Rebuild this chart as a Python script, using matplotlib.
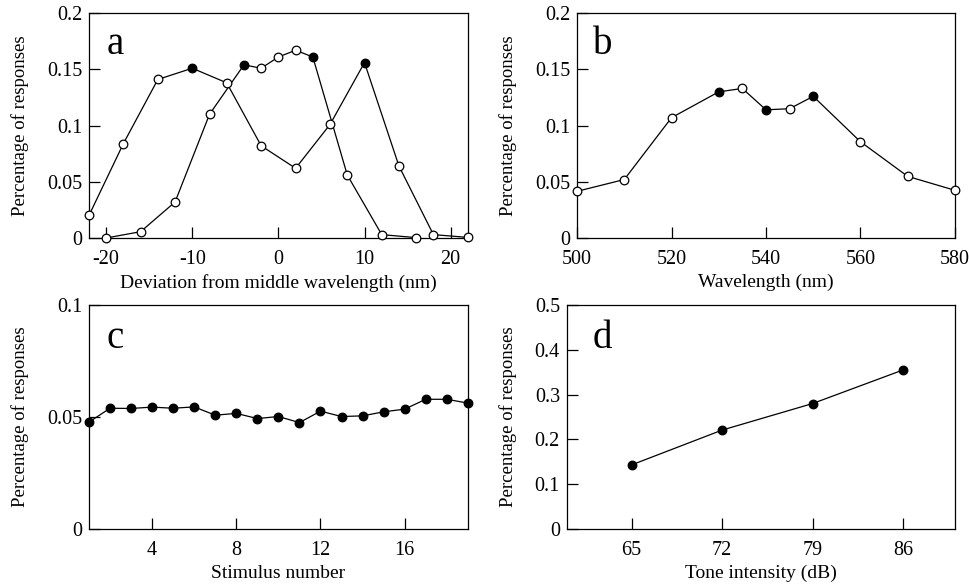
import matplotlib
matplotlib.use("Agg")
import matplotlib.pyplot as plt

plt.rcParams['font.family'] = ['Liberation Serif', 'DejaVu Serif']
plt.rcParams['axes.unicode_minus'] = False

# Panel a
a1_x = [-22, -18, -14, -10, -6, -2, 2, 6, 10, 14, 18, 22]
a1_y = [0.020, 0.084, 0.141, 0.151, 0.138, 0.082, 0.062, 0.101, 0.156, 0.064, 0.003, 0.0005]
a1_filled = [False, False, False, True, False, False, False, False, True, False, False, False]
a2_x = [-20, -16, -12, -8, -4, -2, 0, 2, 4, 8, 12, 16]
a2_y = [0.0, 0.0056, 0.032, 0.110, 0.154, 0.151, 0.161, 0.167, 0.161, 0.056, 0.003, 0.0003]
a2_filled = [False, False, False, False, True, False, False, False, True, False, False, False]

# Panel b
b_x = [500, 510, 520, 530, 535, 540, 545, 550, 560, 570, 580]
b_y = [0.0415, 0.052, 0.107, 0.130, 0.133, 0.114, 0.115, 0.126, 0.0856, 0.0548, 0.0424]
b_filled = [False, False, False, True, False, True, False, True, False, False, False]

# Panel c
c_x = list(range(1, 20))
c_y = [0.0477, 0.0539, 0.0538, 0.0544, 0.0539, 0.0545, 0.0508, 0.0516, 0.0493, 0.0502,
       0.0475, 0.0526, 0.0502, 0.0505, 0.0523, 0.0535, 0.0579, 0.0579, 0.0562]

# Panel d
d_x = [65, 72, 79, 86]
d_y = [0.143, 0.2207, 0.280, 0.355]

fig = plt.figure(figsize=(9.69, 5.84), dpi=100)
ax_a = fig.add_axes([0.0918, 0.5925, 0.391, 0.385])
ax_b = fig.add_axes([0.5955, 0.5925, 0.390, 0.385])
ax_c = fig.add_axes([0.0918, 0.0942, 0.391, 0.3836])
ax_d = fig.add_axes([0.585, 0.0942, 0.4004, 0.3836])

MS = 6.2
LW = 0.9


def draw(ax, xs, ys, filled):
    ax.plot(xs, ys, color='black', lw=LW, zorder=2)
    for x, y, f in zip(xs, ys, filled):
        ax.plot([x], [y], marker='o', ms=MS, mec='black', mew=0.9,
                mfc='black' if f else 'white', ls='none', zorder=3, clip_on=False)


def style(ax):
    ax.tick_params(direction='in', length=8, width=0.9, top=False, right=False,
                   labelsize=14.5, pad=5)
    ax.tick_params(axis='x', pad=9)
    for s in ax.spines.values():
        s.set_linewidth(0.9)
    ax.set_ylabel('Percentage of responses', fontsize=13.5, labelpad=13)


draw(ax_a, a1_x, a1_y, a1_filled)
draw(ax_a, a2_x, a2_y, a2_filled)
ax_a.set_xlim(-22, 22)
ax_a.set_ylim(0, 0.2)
ax_a.set_xticks([-20, -10, 0, 10, 20])
ax_a.set_yticks([0, 0.05, 0.1, 0.15, 0.2])
ax_a.set_yticklabels(['0', '0.05', '0.1', '0.15', '0.2'])
ax_a.set_xlabel('Deviation from middle wavelength (nm)', fontsize=14, labelpad=3)
style(ax_a)
ax_a.text(0.047, 0.82, 'a', transform=ax_a.transAxes, fontsize=28, va='baseline')

draw(ax_b, b_x, b_y, b_filled)
ax_b.set_xlim(500, 580)
ax_b.set_ylim(0, 0.2)
ax_b.set_xticks([500, 520, 540, 560, 580])
ax_b.set_yticks([0, 0.05, 0.1, 0.15, 0.2])
ax_b.set_yticklabels(['0', '0.05', '0.1', '0.15', '0.2'])
ax_b.set_xlabel('Wavelength (nm)', fontsize=14, labelpad=3)
style(ax_b)
ax_b.text(0.042, 0.82, 'b', transform=ax_b.transAxes, fontsize=28, va='baseline')

draw(ax_c, c_x, c_y, [True] * len(c_x))
ax_c.set_xlim(1, 19)
ax_c.set_ylim(0, 0.1)
ax_c.set_xticks([4, 8, 12, 16])
ax_c.set_yticks([0, 0.05, 0.1])
ax_c.set_yticklabels(['0', '0.05', '0.1'])
ax_c.set_xlabel('Stimulus number', fontsize=14, labelpad=3)
style(ax_c)
ax_c.text(0.047, 0.81, 'c', transform=ax_c.transAxes, fontsize=28, va='baseline')

draw(ax_d, d_x, d_y, [True] * len(d_x))
ax_d.set_xlim(60, 90)
ax_d.set_ylim(0, 0.5)
ax_d.set_xticks(d_x)
ax_d.set_yticks([0, 0.1, 0.2, 0.3, 0.4, 0.5])
ax_d.set_yticklabels(['0', '0.1', '0.2', '0.3', '0.4', '0.5'])
ax_d.set_xlabel('Tone intensity (dB)', fontsize=14, labelpad=3)
style(ax_d)
ax_d.text(0.067, 0.81, 'd', transform=ax_d.transAxes, fontsize=28, va='baseline')

fig.savefig('out.png', dpi=100)
